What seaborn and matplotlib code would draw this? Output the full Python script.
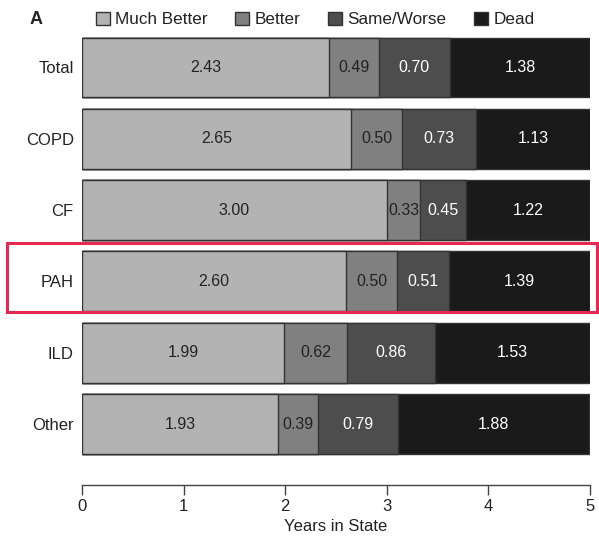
import pandas as pd
import seaborn as sns
import matplotlib.pyplot as plt
from matplotlib.patches import Patch, Rectangle

groups = ['Total', 'COPD', 'CF', 'PAH', 'ILD', 'Other']
states = ['Much Better', 'Better', 'Same/Worse', 'Dead']
much_better = [2.43, 2.65, 3.00, 2.60, 1.99, 1.93]
better = [0.49, 0.50, 0.33, 0.50, 0.62, 0.39]
same_worse = [0.70, 0.73, 0.45, 0.51, 0.86, 0.79]
dead = [1.38, 1.13, 1.22, 1.39, 1.53, 1.88]

colors = ['#b3b3b3', '#808080', '#4d4d4d', '#1a1a1a']
text_colors = ['#222222', '#222222', 'white', 'white']

df = pd.DataFrame({'group': groups, 'Much Better': much_better, 'Better': better,
                   'Same/Worse': same_worse, 'Dead': dead})
cum = df[states].cumsum(axis=1)

sns.set_style('white')
plt.rcParams['font.family'] = ['Liberation Sans', 'DejaVu Sans']

fig = plt.figure(figsize=(5.99, 5.40), dpi=100)
ax = fig.add_axes([0.1369, 0.1019, 0.8481, 0.8426])

# draw cumulative bars from the back (largest) to the front
for state, col in reversed(list(zip(states, colors))):
    sns.barplot(x=cum[state], y=df['group'], orient='h', color=col, width=0.84,
                edgecolor='#333333', linewidth=1, saturation=1, ax=ax)

for i in range(len(groups)):
    left = 0
    for state, tc in zip(states, text_colors):
        v = df.loc[i, state]
        ax.text(left + v / 2, i, f'{v:.2f}', ha='center', va='center',
                color=tc, fontsize=11.5)
        left += v

ax.set_xlim(0, 5)
ax.set_ylim(5.855, -0.526)
ax.set_xticks(range(6))
ax.set_xlabel('Years in State', fontsize=12, labelpad=4, color='#222222')
ax.set_ylabel('')
ax.tick_params(axis='x', length=7, width=1, color='#444444', labelsize=12,
               labelcolor='#222222', pad=3, bottom=True)
ax.tick_params(axis='y', length=0, labelsize=12, labelcolor='#222222', pad=6)
for s in ['top', 'right', 'left']:
    ax.spines[s].set_visible(False)
ax.spines['bottom'].set_color('#444444')
ax.spines['bottom'].set_linewidth(1)
ax.spines['bottom'].set_position(('data', 5.855))

handles = [Patch(facecolor=c, edgecolor='#333333', linewidth=1) for c in colors]
fig.legend(handles, states, loc='center left', bbox_to_anchor=(0.16, 0.964),
           ncol=4, frameon=False, fontsize=12.3, handlelength=0.8,
           handleheight=0.8, handletextpad=0.3, columnspacing=1.65,
           labelcolor='#222222', borderaxespad=0, borderpad=0)
fig.text(0.06, 0.964, 'A', fontsize=13, fontweight='bold', ha='center',
         va='center')

fig.patches.append(Rectangle((7 / 599, 1 - 312 / 540), 590 / 599, 69 / 540,
                             transform=fig.transFigure, fill=False,
                             edgecolor='#e8294f', linewidth=2.2))

fig.savefig('out.png', dpi=100)
